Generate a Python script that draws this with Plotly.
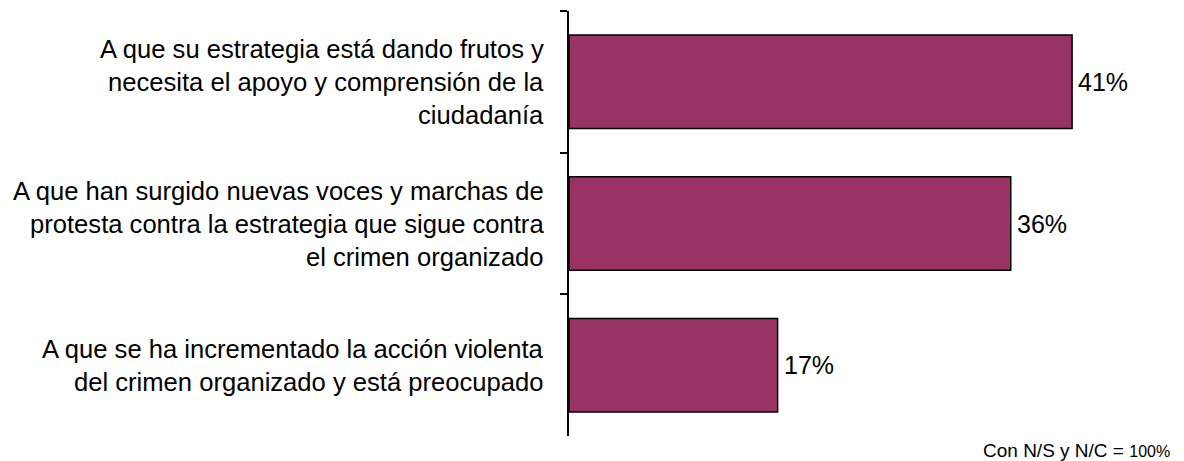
import plotly.graph_objects as go

categories = [
    "A que su estrategia está dando frutos y<br>necesita el apoyo y comprensión de la<br>ciudadanía",
    "A que han surgido nuevas voces y marchas de<br>protesta contra la estrategia que sigue contra<br>el crimen organizado",
    "A que se ha incrementado la acción violenta<br>del crimen organizado y está preocupado",
]
values = [41, 36, 17]
footnote_main = "Con N/S y N/C = "
footnote_small = "100%"

FONT = "Liberation Sans, Arial, sans-serif"
LINE_H = 33

fig = go.Figure()
fig.add_trace(go.Bar(
    y=categories, x=values, orientation="h",
    marker=dict(color="#993366", line=dict(color="black", width=1.5)),
    width=0.66,
    hoverinfo="x+y",
))

annotations = []
for cat, v in zip(categories, values):
    lines = cat.split("<br>")
    n = len(lines)
    for i, ln in enumerate(lines):
        annotations.append(dict(
            x=0, xref="paper", y=cat, yref="y",
            text=ln, showarrow=False,
            xanchor="right", yanchor="middle",
            xshift=-23, yshift=-(i - (n - 1) / 2) * LINE_H,
            font=dict(family=FONT, size=25.6, color="black"),
        ))
    annotations.append(dict(
        x=v, xref="x", y=cat, yref="y",
        text=f"{v}%", showarrow=False,
        xanchor="left", yanchor="middle", xshift=4,
        font=dict(family=FONT, size=25, color="black"),
    ))
annotations.append(dict(
    x=1, xref="paper", y=0, yref="paper",
    text=f"{footnote_main}<span style='font-size:16px'>{footnote_small}</span>",
    showarrow=False, xanchor="right", yanchor="middle",
    xshift=14, yshift=-14,
    font=dict(family=FONT, size=19, color="black"),
))

fig.update_layout(
    width=1176, height=453,
    margin=dict(l=561, r=26, t=3, b=25),
    paper_bgcolor="white", plot_bgcolor="white",
    showlegend=False,
    bargap=0.34,
    xaxis=dict(range=[0, 48], visible=False),
    yaxis=dict(
        autorange="reversed", type="category",
        showticklabels=False, ticks="outside", tickson="boundaries",
        ticklen=7, tickcolor="black", tickwidth=1.5,
        showline=True, linecolor="black", linewidth=1.5,
        showgrid=False, zeroline=False,
    ),
    annotations=annotations,
)

fig.write_html("out.html")
